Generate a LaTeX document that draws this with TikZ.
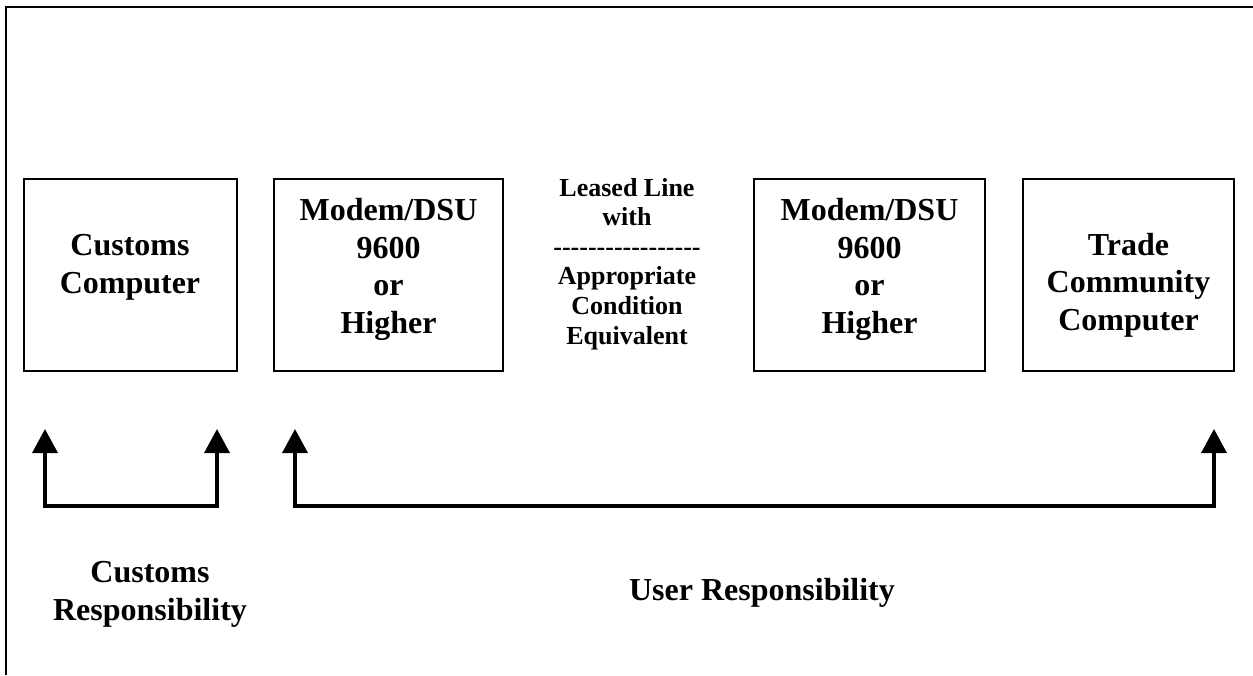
\documentclass[tikz,border=0pt]{standalone}
\usepackage{fontspec}
\setmainfont{Liberation Serif}
\usetikzlibrary{arrows.meta}
\newcommand{\dashrow}{\foreach \k in {1,...,17}{\mbox{-}}}
\tikzset{
  frame/.style={line width=2pt},
  unit/.style={draw, line width=2pt, minimum height=192pt, inner sep=0pt},
  lbl/.style={font=\fontsize{32}{37.5}\selectfont\bfseries, align=center, anchor=base, inner sep=0pt},
  small/.style={font=\fontsize{26}{29.6}\selectfont\bfseries, align=center, anchor=base, inner sep=0pt},
  bracket/.style={line width=3.5pt, {Triangle[length=24pt,width=25pt]}-{Triangle[length=24pt,width=25pt]}}
}
\begin{document}
\begin{tikzpicture}[x=1pt,y=-1pt]
  \useasboundingbox (0,0) rectangle (1253,675);
  % frame
  \draw[frame] (6,675) -- (6,7) -- (1253,7);
  % boxes
  \node[unit, minimum width=213pt] (cust) at (130.5,275) {};
  \node[unit, minimum width=229pt] (modl) at (388.5,275) {};
  \node[unit, minimum width=231pt] (modr) at (869.5,275) {};
  \node[unit, minimum width=211pt] (trade) at (1128.5,275) {};
  % texts (placed at the baseline of their last line)
  \node[lbl] (custtxt) at (130,293) {Customs\\Computer};
  \node[lbl] (modltxt) at (388.5,333) {Modem/DSU\\9600\\or\\Higher};
  \node[small] (lease) at (627,344) {Leased Line\\with\\\dashrow\\Appropriate\\Condition\\Equivalent};
  \node[lbl] (modrtxt) at (869.5,333) {Modem/DSU\\9600\\or\\Higher};
  \node[lbl] (tradetxt) at (1128.5,330) {Trade\\Community\\Computer};
  % responsibility brackets
  \coordinate (cl) at (45,429);
  \coordinate (cr) at (217,429);
  \coordinate (ul) at (295,429);
  \coordinate (ur) at (1214,429);
  \draw[bracket] (cl) -- ++(0,77) -| (cr);
  \draw[bracket] (ul) -- ++(0,77) -| (ur);
  \node[lbl] (custresp) at (150,620) {Customs\\Responsibility};
  \node[lbl] (userresp) at (762,600) {User Responsibility};
\end{tikzpicture}
\end{document}
